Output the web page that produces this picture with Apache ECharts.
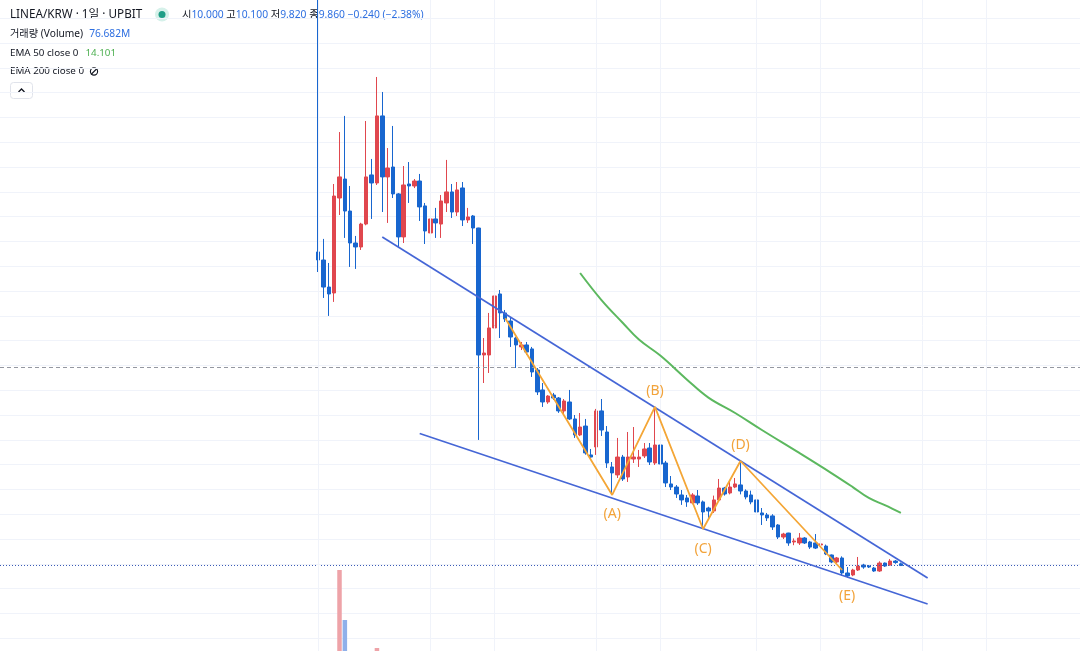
<!DOCTYPE html>
<html><head><meta charset="utf-8">
<script src="https://cdn.jsdelivr.net/npm/echarts@6/dist/echarts.min.js"></script>
<style>html,body{margin:0;padding:0;background:#fff}#c{width:1080px;height:651px}</style>
</head><body><div id="c"></div>
<script>
// ---- data ----
const startDate = '2025-09-10';
const PAD = 59;     // empty day slots to the left of the first candle
const FUTURE = 33;  // empty day slots to the right of the last candle
const opens = [35.15,34.50,32.32,31.84,39.50,41.03,38.45,35.87,35.55,37.40,
 41.36,40.71,46.12,41.20,42.00,39.83,36.36,40.63,40.47,40.87,
 38.86,36.68,37.81,37.40,39.10,39.99,38.37,40.31,37.73,38.05,
 37.08,26.84,26.84,29.02,31.76,30.23,29.58,28.21,27.49,27.65,
 27.33,25.63,24.02,23.05,23.61,23.37,22.33,23.05,21.68,20.39,
 21.11,18.78,19.42,22.33,20.63,17.81,17.17,18.61,17.00,18.45,
 18.45,18.70,19.34,18.13,19.58,18.13,16.44,16.19,15.55,15.31,
 14.91,15.47,14.99,14.50,14.26,15.15,16.11,15.71,16.19,16.36,
 15.87,15.55,15.15,14.10,13.94,13.86,13.13,12.16,12.48,11.76,
 11.68,12.08,11.76,11.68,11.52,11.43,10.71,10.15,10.47,9.26,
 9.10,9.50,9.90,9.82,9.66,9.42,10.06,9.90,10.22,10.00];
const closes = [34.50,32.32,31.76,39.66,41.20,38.45,35.87,35.55,37.40,41.20,
 40.71,46.12,41.20,41.92,39.83,36.36,40.55,40.47,40.87,38.78,
 36.84,37.81,37.49,39.26,39.99,38.37,40.15,37.73,37.97,37.08,
 26.84,27.00,29.02,31.60,30.23,29.74,28.29,27.65,27.65,27.08,
 25.47,23.86,23.05,23.53,23.37,22.33,23.13,21.68,20.39,21.03,
 18.94,18.61,22.33,20.79,18.13,17.33,18.61,16.84,18.61,18.61,
 18.61,19.26,18.21,19.58,18.05,16.52,16.19,15.63,15.15,14.99,
 15.55,14.91,14.18,14.26,15.15,16.11,15.63,16.19,16.44,15.87,
 15.39,14.99,14.18,13.94,13.70,12.97,12.16,12.40,11.68,11.84,
 12.08,11.68,11.35,11.27,11.60,10.79,10.15,10.47,9.26,9.02,
 9.50,9.82,9.74,9.74,9.42,10.06,9.82,10.22,10.10,9.86];
const lows = [33.53,31.44,29.99,31.12,38.13,36.28,33.94,33.78,35.31,37.30,
 37.81,40.55,38.37,37.49,39.50,35.55,35.87,39.10,40.30,37.65,
 35.79,36.28,36.28,36.28,38.37,37.89,38.05,37.24,37.49,35.79,
 19.99,24.58,25.39,28.86,28.21,29.50,27.49,25.79,27.24,26.84,
 25.07,23.61,22.65,22.90,23.21,22.17,22.00,21.60,20.15,20.30,
 18.80,18.37,18.78,20.31,17.73,15.60,16.92,16.68,16.60,18.13,
 17.81,18.53,17.97,17.97,17.81,16.19,15.95,15.31,14.75,14.59,
 14.80,14.75,12.81,13.70,14.10,15.00,15.50,15.60,16.10,15.60,
 15.20,14.80,13.78,13.13,13.45,12.73,12.00,12.00,11.45,11.50,
 11.52,11.60,11.20,11.19,11.40,10.70,10.05,10.05,9.02,8.86,
 9.00,9.42,9.60,9.66,9.35,9.35,9.75,9.85,10.00,9.82];
const highs = [56.00,36.20,34.26,40.63,44.82,46.12,40.47,36.44,37.50,45.71,
 42.65,49.26,48.05,43.53,45.31,39.90,42.08,42.40,41.03,41.44,
 39.10,38.45,38.70,39.74,42.57,40.63,40.79,40.79,38.70,38.13,
 37.10,28.21,30.23,32.32,32.08,30.47,29.90,28.30,27.89,27.89,
 27.49,25.79,24.58,23.60,23.78,23.45,23.29,24.02,22.00,22.16,
 21.68,19.26,22.49,23.29,21.11,18.21,20.15,18.78,20.63,21.03,
 19.18,19.74,19.74,22.65,21.36,18.30,17.08,16.35,15.95,15.55,
 15.70,15.95,15.10,14.60,15.50,16.84,16.20,16.76,16.92,18.29,
 16.00,15.90,15.20,14.50,14.10,14.00,13.20,12.50,12.50,12.05,
 12.48,12.15,11.85,12.40,11.80,11.55,10.75,10.55,10.60,9.74,
 9.60,10.55,10.00,9.90,9.75,10.20,10.10,10.38,10.30,10.10];
const volumes = [260,210,150,270,1100,600,180,120,110,240,
 140,320,230,130,150,140,170,90,70,100,
 110,80,60,90,120,80,90,100,50,70,
 280,160,180,150,120,90,110,100,60,70,
 120,130,90,60,50,80,70,110,100,80,
 120,60,160,130,140,110,120,100,110,90,
 60,70,80,130,110,100,60,70,80,60,
 70,60,110,60,90,100,60,70,60,90,
 60,70,90,60,50,80,90,50,80,50,
 60,50,60,70,40,80,90,60,140,110,
 90,80,50,40,60,90,60,70,60,76.682];
const upperLine = [[12, 36.35], [114, 8.86]];
const lowerLine = [[19, 20.51], [114, 6.76]];
const waveLine = [[35, 29.8], [55, 15.55], [63, 22.65], [72, 12.81], [79, 18.29], [98, 9.5]];
const waveLabels = ['', '(A)', '(B)', '(C)', '(D)', '(E)'];
const ema50 = [[49,33.45],[53,31.27],[57,29.42],[60,28.08],[64,26.79],[69,24.85],[73,23.40],
 [78,22.16],[83,20.79],[90,18.94],[96,17.32],[100,16.19],[103,15.31],[106,14.73],[109,14.10]];
const vGridDays = [0, 21, 33, 52, 64, 82, 94, 113, 125];
const dashedLevel = 25.87;
const lastClose = 9.86;

// ---- build ----
const UP = '#e0474e', DOWN = '#1866cf';
const N = PAD + opens.length + FUTURE;
const cats = [];
{
  const d0 = new Date(startDate + 'T00:00:00Z');
  for (let k = 0; k < N; k++) {
    const d = new Date(d0.getTime() + (k - PAD) * 86400000);
    cats.push(d.toISOString().slice(0, 10));
  }
}
const candle = [], vol = [];
for (let k = 0; k < N; k++) {
  const i = k - PAD;
  if (i >= 0 && i < opens.length) {
    candle.push([opens[i], closes[i], lows[i], highs[i]]);
    const up = closes[i] >= opens[i];
    vol.push({value: volumes[i], itemStyle: {color: up ? '#eea3a8' : '#8fb0ea'}});
  } else {
    candle.push(['-', '-', '-', '-']);
    vol.push('-');
  }
}
const shift = arr => arr.map(p => [PAD + p[0], p[1]]);
const FONT = '"Noto Sans","Noto Sans CJK KR",sans-serif';
const hiddenCat = gi => ({type: 'category', data: cats, gridIndex: gi, boundaryGap: true,
  axisLine: {show: false}, axisTick: {show: false}, axisLabel: {show: false}, splitLine: {show: false}});

const chart = echarts.init(document.getElementById('c'), null, {renderer: 'canvas'});
const labelPos = ['bottom', 'bottom', 'top', 'bottom', 'top', 'bottom'];
const labelDist = [0, 12, 9, 13, 9, 19];
const labelOff = [0, 0, 0, 0, 0, 5];

chart.setOption({
  animation: false,
  backgroundColor: '#ffffff',
  grid: [
    {left: 0, right: 0, top: 18.2, bottom: 12.8},
    {left: 0, right: 0, top: 560, bottom: 0},
    {left: 0, right: 0, top: 0, bottom: 0}
  ],
  xAxis: [hiddenCat(0), hiddenCat(1), hiddenCat(2)],
  yAxis: [
    {type: 'value', gridIndex: 0, min: 4, max: 54, interval: 2,
     axisLine: {show: false}, axisTick: {show: false}, axisLabel: {show: false},
     splitLine: {show: true, lineStyle: {color: '#f0f3fa', width: 1}}},
    {type: 'value', gridIndex: 1, min: 290, max: 1200,
     axisLine: {show: false}, axisTick: {show: false}, axisLabel: {show: false}, splitLine: {show: false}},
    {type: 'value', gridIndex: 2, min: 0, max: 1, show: false}
  ],
  series: [
    {type: 'line', xAxisIndex: 2, yAxisIndex: 2, data: [], z: 0, silent: true, symbol: 'none',
     markLine: {silent: true, symbol: 'none', label: {show: false},
       lineStyle: {color: '#f0f3fa', type: 'solid', width: 1},
       data: vGridDays.map(d => ({xAxis: PAD + d}))}},
    {type: 'bar', xAxisIndex: 1, yAxisIndex: 1, data: vol, barWidth: 4.5, z: 2, silent: true, clip: true},
    {type: 'candlestick', xAxisIndex: 0, yAxisIndex: 0, data: candle, barWidth: 4, z: 3, clip: false,
     itemStyle: {color: UP, color0: DOWN, borderColor: UP, borderColor0: DOWN, borderWidth: 1},
     markLine: {silent: true, symbol: 'none', label: {show: false}, z: 4,
       data: [
         {yAxis: dashedLevel, lineStyle: {color: '#9598a1', type: [4, 3], width: 1}},
         {yAxis: lastClose, lineStyle: {color: '#3b5bb5', type: [1, 2], width: 1}}
       ]}},
    {type: 'line', name: 'EMA 50', data: shift(ema50), smooth: 0.4, symbol: 'none', z: 5,
     lineStyle: {color: '#5cb85f', width: 2}},
    {type: 'line', data: shift(upperLine), symbol: 'none', z: 6, lineStyle: {color: '#4566d6', width: 1.7}},
    {type: 'line', data: shift(lowerLine), symbol: 'none', z: 6, lineStyle: {color: '#4566d6', width: 1.7}},
    {type: 'line', data: shift(waveLine).map((p, j) => ({
        value: p,
        label: {show: j > 0, formatter: waveLabels[j], position: labelPos[j], distance: labelDist[j],
                offset: [labelOff[j], 0], color: '#f2a33a', fontSize: 14, fontFamily: FONT}
      })), symbol: 'circle', symbolSize: 0.1, showSymbol: true, z: 7,
     lineStyle: {color: '#f4a636', width: 1.8}, itemStyle: {color: '#f4a636'}}
  ],
  graphic: [
    {type: 'text', x: 10, y: 14.5, style: {text: 'LINEA/KRW · 1일 · UPBIT', font: '11.7px ' + FONT, fill: '#131722', verticalAlign: 'middle', textVerticalAlign: 'middle'}},
    {type: 'circle', shape: {cx: 162, cy: 14.5, r: 7}, style: {fill: '#d6f1ea'}},
    {type: 'circle', shape: {cx: 162, cy: 14.5, r: 3.5}, style: {fill: '#1f9e86'}},
    {type: 'text', x: 182, y: 15, style: {
      text: '{k|시}{v|10.000} {k|고}{v|10.100} {k|저}{v|9.820} {k|종}{v|9.860} {v|−0.240 (−2.38%)}',
      font: '10.3px ' + FONT, verticalAlign: 'middle', textVerticalAlign: 'middle',
      rich: {k: {fill: '#131722', color: '#131722', font: '10.3px ' + FONT}, v: {fill: '#2e6fe0', color: '#2e6fe0', font: '10.3px ' + FONT}}}},
    {type: 'text', x: 10, y: 34.5, style: {
      text: '{k|거래량 (Volume)}{v|76.682M}', font: '10.2px ' + FONT, verticalAlign: 'middle', textVerticalAlign: 'middle',
      rich: {k: {fill: '#131722', color: '#131722', font: '10.2px ' + FONT}, v: {fill: '#2e6fe0', color: '#2e6fe0', font: '10.2px ' + FONT, padding: [0, 0, 0, 6]}}}},
    {type: 'text', x: 10, y: 53, style: {
      text: '{k|EMA 50 close 0}{v|14.101}', font: '9.8px ' + FONT, verticalAlign: 'middle', textVerticalAlign: 'middle',
      rich: {k: {fill: '#131722', color: '#131722', font: '9.8px ' + FONT}, v: {fill: '#4caf50', color: '#4caf50', font: '9.8px ' + FONT, padding: [0, 0, 0, 7]}}}},
    {type: 'text', x: 10, y: 71.5, style: {
      text: 'EMA 200 close 0', font: '9.8px ' + FONT, fill: '#131722', verticalAlign: 'middle', textVerticalAlign: 'middle'}},
    {type: 'circle', shape: {cx: 94, cy: 71.5, r: 3.6}, style: {fill: 'none', stroke: '#131722', lineWidth: 1.1}},
    {type: 'line', shape: {x1: 91, y1: 74.5, x2: 97, y2: 68.5}, style: {stroke: '#131722', lineWidth: 1.1}},
    {type: 'rect', shape: {x: 10.5, y: 82.5, width: 22, height: 16, r: 3}, style: {fill: '#ffffff', stroke: '#e0e3eb', lineWidth: 1}},
    {type: 'polyline', shape: {points: [[18.5, 92], [21.5, 89], [24.5, 92]]}, style: {stroke: '#131722', lineWidth: 1.3, fill: 'none'}}
  ]
});
</script></body></html>
